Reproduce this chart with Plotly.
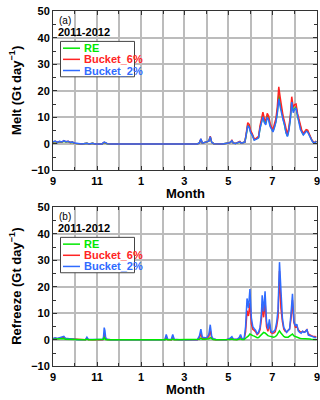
import pandas as pd
import plotly.graph_objects as go
from plotly.subplots import make_subplots

# days since 2011-09-01, values in Gt/day
melt_day = [0, 3, 6, 9, 12, 15, 18, 21, 24, 27, 30, 34, 40, 47, 50, 55, 58, 68, 71, 73, 75, 80,
            150, 200, 203, 205, 207, 210, 213, 216, 218, 220, 223, 235, 243, 246, 248, 250, 253,
            257, 259, 261, 264, 266, 268, 270, 272, 274, 276, 279, 282, 285, 287, 289, 291, 293,
            295, 297, 299, 301, 303, 305, 307, 309, 311, 313, 315, 317, 319, 321, 323, 325, 327,
            329, 331, 333, 335, 337, 339, 341, 343, 345, 347, 349, 351, 353, 355, 357, 359, 361,
            363, 365]
melt_re = [0.6, 0.9, 0.5, 0.8, 0.6, 1.0, 0.7, 0.9, 0.5, 0.6, 0.2, 0.1, 0.0, 0.2, 0.0, 0.2, 0.0, 0.0,
           0.5, 0.3, 0.1, 0.0, 0.0, 0.0, 0.4, 1.6, 0.3, 0.5, 0.7, 1.0, 2.5, 0.6, 0.1, 0.0, 0.3, 0.6,
           1.1, 0.3, 0.2, 0.5, 0.7, 0.3, 0.5, 0.7, 3.5, 7.2, 6.5, 4.5, 3.6, 1.6, 1.9, 2.4, 6.0, 8.5,
           10.5, 8.5, 7.8, 10.5, 9.5, 7.0, 5.5, 4.8, 6.5, 8.5, 12.0, 18.5, 15.0, 12.0, 9.5, 7.5, 4.5,
           3.0, 5.5, 9.5, 16.0, 12.5, 13.5, 14.0, 10.5, 8.5, 5.8, 4.5, 3.6, 4.2, 5.0, 4.8, 3.5, 2.0,
           1.3, 0.6, 0.4, 1.0]
melt_b6 = [0.7, 1.0, 0.6, 0.9, 0.7, 1.1, 0.8, 1.0, 0.5, 0.7, 0.2, 0.1, 0.0, 0.2, 0.0, 0.2, 0.0, 0.0,
           0.6, 0.4, 0.1, 0.0, 0.0, 0.0, 0.4, 1.8, 0.3, 0.5, 0.7, 1.0, 2.9, 0.6, 0.1, 0.0, 0.3, 0.6,
           1.3, 0.3, 0.2, 0.5, 0.9, 0.3, 0.5, 0.7, 4.2, 8.0, 7.4, 5.0, 4.0, 1.8, 2.2, 2.8, 6.8, 9.3,
           12.0, 9.5, 8.5, 11.5, 10.5, 7.8, 6.2, 5.5, 7.3, 9.5, 14.0, 21.5, 17.5, 13.5, 10.5, 8.3, 5.2,
           3.5, 6.2, 10.5, 17.8, 13.8, 14.8, 15.0, 11.5, 9.3, 6.5, 5.0, 4.0, 4.6, 5.4, 5.2, 3.8, 2.2,
           1.4, 0.7, 0.5, 1.1]
melt_b2 = [0.8, 1.1, 0.6, 1.0, 0.7, 1.2, 0.8, 1.0, 0.6, 0.7, 0.3, 0.1, 0.0, 0.2, 0.0, 0.2, 0.0, 0.0,
           0.7, 0.5, 0.1, 0.0, 0.0, 0.0, 0.4, 1.9, 0.3, 0.5, 0.7, 1.0, 2.7, 0.6, 0.1, 0.0, 0.3, 0.6,
           1.2, 0.3, 0.2, 0.5, 0.8, 0.3, 0.5, 0.7, 3.8, 6.8, 6.2, 4.2, 3.4, 1.4, 1.8, 2.3, 5.8, 8.0,
           10.2, 8.0, 7.2, 10.0, 9.0, 6.6, 5.2, 4.5, 6.2, 8.2, 11.5, 17.0, 14.0, 11.2, 9.0, 7.2, 4.2,
           2.8, 5.0, 9.0, 15.8, 11.8, 13.0, 13.5, 10.0, 8.0, 5.4, 4.2, 3.4, 4.0, 4.8, 4.5, 3.2, 1.8,
           1.2, 0.5, 0.4, 1.0]

frz_day = [0, 3, 6, 9, 12, 15, 17, 21, 25, 30, 35, 45, 47, 49, 55, 60, 69, 70, 71, 72, 73, 75, 80,
           155, 157, 159, 164, 166, 168, 175, 200, 203, 205, 207, 210, 213, 216, 218, 220, 222, 226,
           240, 245, 248, 250, 255, 258, 260, 262, 265, 267, 269, 271, 273, 275, 277, 279, 281, 283,
           285, 287, 289, 290, 292, 294, 296, 298, 300, 302, 304, 306, 308, 310, 312, 314, 316, 318,
           320, 322, 324, 326, 328, 330, 332, 334, 336, 338, 340, 342, 344, 346, 348, 350, 352, 354,
           356, 358, 360, 362, 365]
frz_re = [0.2, 0.3, 0.2, 0.3, 0.4, 0.5, 0.2, 0.2, 0.1, 0.0, 0.0, 0.0, 0.3, 0.0, 0.0, 0.0, 0.0, 0.2,
          0.8, 0.5, 0.1, 0.0, 0.0, 0.0, 0.3, 0.0, 0.0, 0.3, 0.0, 0.0, 0.0, 0.2, 0.6, 0.2, 0.2, 0.2,
          0.4, 0.8, 0.3, 0.1, 0.0, 0.0, 0.1, 0.3, 0.1, 0.0, 0.2, 0.4, 0.1, 0.1, 0.6, 1.0, 1.5, 2.2,
          1.8, 1.6, 1.4, 1.1, 0.8, 0.9, 1.5, 2.0, 2.3, 2.8, 2.6, 2.0, 1.6, 1.4, 1.2, 1.0, 1.0, 1.2,
          1.6, 2.5, 3.4, 2.6, 1.8, 1.3, 1.0, 0.9, 1.0, 1.4, 1.8, 2.2, 1.5, 1.2, 1.0, 0.8, 0.6, 0.5,
          0.5, 0.4, 0.5, 0.5, 0.3, 0.3, 0.2, 0.2, 0.1, 0.1]
frz_b6 = [0.4, 0.6, 0.4, 0.5, 0.8, 1.0, 0.5, 0.4, 0.3, 0.1, 0.0, 0.0, 0.6, 0.1, 0.0, 0.0, 0.0, 0.5,
          2.2, 1.4, 0.4, 0.1, 0.0, 0.0, 1.2, 0.1, 0.0, 1.2, 0.1, 0.0, 0.0, 0.8, 2.5, 0.5, 0.4, 0.4,
          1.2, 3.5, 0.8, 0.2, 0.0, 0.0, 0.3, 0.8, 0.2, 0.1, 0.5, 1.3, 0.3, 0.3, 3.0, 11.0, 9.0, 14.0,
          6.0, 4.0, 3.5, 3.0, 2.0, 2.5, 3.8, 8.0, 13.5, 8.5, 14.5, 5.0, 3.2, 6.0, 2.8, 2.5, 2.6, 3.0,
          5.0, 8.5, 26.0, 12.0, 7.0, 4.0, 3.2, 3.0, 3.5, 4.2, 8.0, 15.0, 6.5, 4.8, 5.2, 3.8, 3.2, 2.8,
          3.2, 3.0, 3.2, 3.8, 2.2, 1.8, 1.6, 1.4, 1.3, 1.2]
frz_b2 = [0.5, 0.8, 0.5, 0.7, 1.0, 1.3, 0.6, 0.5, 0.4, 0.2, 0.0, 0.1, 1.0, 0.2, 0.1, 0.0, 0.1, 1.0,
          4.6, 3.5, 0.8, 0.2, 0.0, 0.0, 2.0, 0.2, 0.1, 2.0, 0.2, 0.0, 0.0, 1.5, 4.0, 1.0, 0.8, 0.7,
          2.0, 5.7, 1.3, 0.4, 0.1, 0.0, 0.5, 1.2, 0.3, 0.2, 0.8, 2.0, 0.5, 0.4, 5.0, 15.6, 12.0, 19.2,
          8.3, 5.0, 4.2, 3.6, 2.2, 3.0, 4.6, 10.0, 16.8, 10.7, 18.3, 7.0, 4.0, 7.7, 3.4, 2.8, 3.2, 3.8,
          6.5, 11.3, 29.3, 15.6, 8.3, 4.6, 3.4, 2.8, 3.6, 4.0, 10.0, 17.4, 7.0, 5.2, 5.9, 3.4, 2.8, 2.5,
          3.2, 2.8, 3.0, 4.0, 1.8, 1.5, 1.3, 1.2, 1.0, 0.9]

series_names = ["RE", "Bucket_6%", "Bucket_2%"]
series_colors = ["#00e800", "#ff2424", "#2f6bff"]

start = pd.Timestamp("2011-09-01")
melt_x = start + pd.to_timedelta(melt_day, unit="D")
frz_x = start + pd.to_timedelta(frz_day, unit="D")

W, H = 320, 400
L, R = 53, 317


def px_x(p):
    return (p - L) / (R - L)


def px_y(p):
    return 1 - p / H


fig = make_subplots(rows=2, cols=1)

for y, c, n in zip([melt_re, melt_b6, melt_b2], series_colors, series_names):
    fig.add_trace(go.Scatter(x=melt_x, y=y, mode="lines", name=n, showlegend=False,
                             line=dict(color=c, width=1.5)), row=1, col=1)
# refreeze panel: red under blue, RE on top
for y, c, n in zip([frz_b6, frz_b2, frz_re],
                   [series_colors[1], series_colors[2], series_colors[0]],
                   [series_names[1], series_names[2], series_names[0]]):
    fig.add_trace(go.Scatter(x=frz_x, y=y, mode="lines", name=n, showlegend=False,
                             line=dict(color=c, width=1.5)), row=2, col=1)

tick_font = dict(family="Liberation Sans", size=11, color="black", weight="bold")
xaxis_style = dict(
    type="date", range=["2011-09-01", "2012-09-01"], tick0="2011-09-01", dtick="M2",
    tickformat="%-m", ticks="inside", ticklen=4, tickcolor="#333",
    showgrid=True, gridcolor="#bcbcbc", gridwidth=1.5,
    minor=dict(dtick="M1", showgrid=True, gridcolor="#bcbcbc", gridwidth=1.5,
               ticks="inside", ticklen=3, tickcolor="#333"),
    showline=True, linecolor="#333", linewidth=1, mirror="allticks",
    tickfont=tick_font, zeroline=False, ticklabeloverflow="allow",
)
yaxis_style = dict(
    range=[-10, 50], tick0=0, dtick=10, ticks="inside", ticklen=4, tickcolor="#333",
    showgrid=True, gridcolor="#bcbcbc", gridwidth=1.5,
    minor=dict(dtick=5, ticks="inside", ticklen=3, tickcolor="#333", showgrid=False),
    showline=True, linecolor="#333", linewidth=1, mirror="allticks",
    tickfont=tick_font, zeroline=False,
)
fig.update_xaxes(**xaxis_style)
fig.update_yaxes(**yaxis_style)
fig.update_layout(
    xaxis=dict(domain=[0, 1]), xaxis2=dict(domain=[0, 1]),
    yaxis=dict(domain=[px_y(169.5), px_y(5.5)]),
    yaxis2=dict(domain=[px_y(371.5), px_y(207.5)]),
)

annotations = []
shapes = []
bold = dict(family="Liberation Sans", color="black", weight="bold")
for top, tag, ytitle in [(5.5, "(a)", "Melt (Gt day<sup>−1</sup>)"),
                         (207.5, "(b)", "Refreeze (Gt day<sup>−1</sup>)")]:
    bottom = top + 164
    annotations.append(dict(text=tag, x=px_x(57), y=px_y(top + 9), xref="paper", yref="paper",
                            xanchor="left", yanchor="middle", showarrow=False,
                            font=dict(family="Liberation Sans", size=10, color="black")))
    annotations.append(dict(text="2011-2012", x=px_x(56), y=px_y(top + 21.5), xref="paper",
                            yref="paper", xanchor="left", yanchor="middle", showarrow=False,
                            font=dict(size=11, **bold)))
    annotations.append(dict(text="Month", x=0.5, y=px_y(bottom + 24), xref="paper", yref="paper",
                            xanchor="center", yanchor="middle", showarrow=False,
                            font=dict(size=13, **bold)))
    annotations.append(dict(text=ytitle, x=px_x(15), y=px_y(top + 82), xref="paper", yref="paper",
                            xanchor="center", yanchor="middle", showarrow=False, textangle=-90,
                            font=dict(size=13, **bold)))
    # legend box
    bx0, bx1 = 60.5, 134.5
    by0 = top + 31
    shapes.append(dict(type="rect", xref="paper", yref="paper",
                       x0=px_x(bx0), x1=px_x(bx1), y0=px_y(by0), y1=px_y(by0 + 36.5),
                       line=dict(color="#444", width=1), fillcolor="white", layer="above"))
    for i, (n, c) in enumerate(zip(series_names, series_colors)):
        yy = px_y(by0 + 7 + i * 11.5)
        shapes.append(dict(type="line", xref="paper", yref="paper", x0=px_x(63), x1=px_x(80),
                           y0=yy, y1=yy, line=dict(color=c, width=1.5), layer="above"))
        annotations.append(dict(text=n, x=px_x(81.5), y=yy, xref="paper", yref="paper",
                                xanchor="left", yanchor="middle", showarrow=False,
                                font=dict(family="Liberation Sans", size=11, color=c, weight="bold")))

fig.update_layout(
    width=W, height=H, margin=dict(l=L, r=W - R, t=0, b=0),
    paper_bgcolor="white", plot_bgcolor="white",
    annotations=annotations, shapes=shapes, showlegend=False,
)

fig.write_html("out.html", config={"displayModeBar": False},
               post_script="document.body.style.margin='0';")
